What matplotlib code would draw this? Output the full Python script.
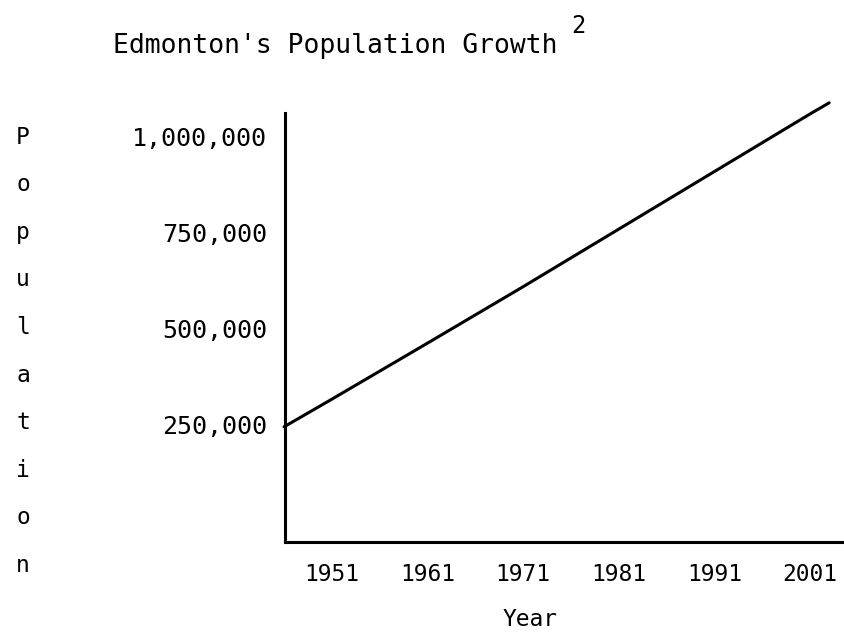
import numpy as np
import matplotlib
matplotlib.use("Agg")
import matplotlib.pyplot as plt

# values
years = [1946, 1951, 1961, 1971, 1981, 1991, 2001, 2003]
population = [245000, 317000, 463000, 610000, 760000, 910000, 1060000, 1089000]

year_ticks = [1951, 1961, 1971, 1981, 1991, 2001]
pop_ticks = [250000, 500000, 750000, 1000000]
pop_labels = ["250,000", "500,000", "750,000", "1,000,000"]

title = "Edmonton's Population Growth"
ylabel = "Population"
xlabel = "Year"

font = "DejaVu Sans Mono"
plt.rcParams['font.family'] = font

fig = plt.figure(figsize=(8.44, 6.33), dpi=100)
ax = fig.add_axes([0.3377, 0.1438, 0.6623, 0.6777])

ax.plot(years, population, color='black', lw=2.2, clip_on=False,
        solid_capstyle='round')

ax.set_xlim(1946.1, 2004.55)
ax.set_ylim(-55000, 1062500)

ax.set_xticks(year_ticks)
ax.set_xticklabels([str(y) for y in year_ticks], fontsize=16.5)
ax.set_yticks(pop_ticks)
ax.set_yticklabels(pop_labels, fontsize=18)
ax.tick_params(axis='both', length=0)
ax.tick_params(axis='y', pad=13)
ax.tick_params(axis='x', pad=15)

for side in ['top', 'right']:
    ax.spines[side].set_visible(False)
for side in ['left', 'bottom']:
    ax.spines[side].set_linewidth(2.2)
    ax.spines[side].set_color('black')

fig.text(530 / 844, 1 - 620 / 633, xlabel, fontsize=16.5,
         ha='center', va='center')

# title with superscript note
fig.text(113 / 844, 1 - 53 / 633, title, fontsize=19, ha='left',
         va='baseline')
fig.text(578 / 844, 1 - 26 / 633, "2", fontsize=17, ha='center', va='center')

# stacked letters for the y label
for i, ch in enumerate(ylabel):
    fig.text(23 / 844, 1 - (137 + i * 47.6) / 633, ch, fontsize=16.5,
             ha='center', va='center')

fig.savefig("out.png", dpi=100)
